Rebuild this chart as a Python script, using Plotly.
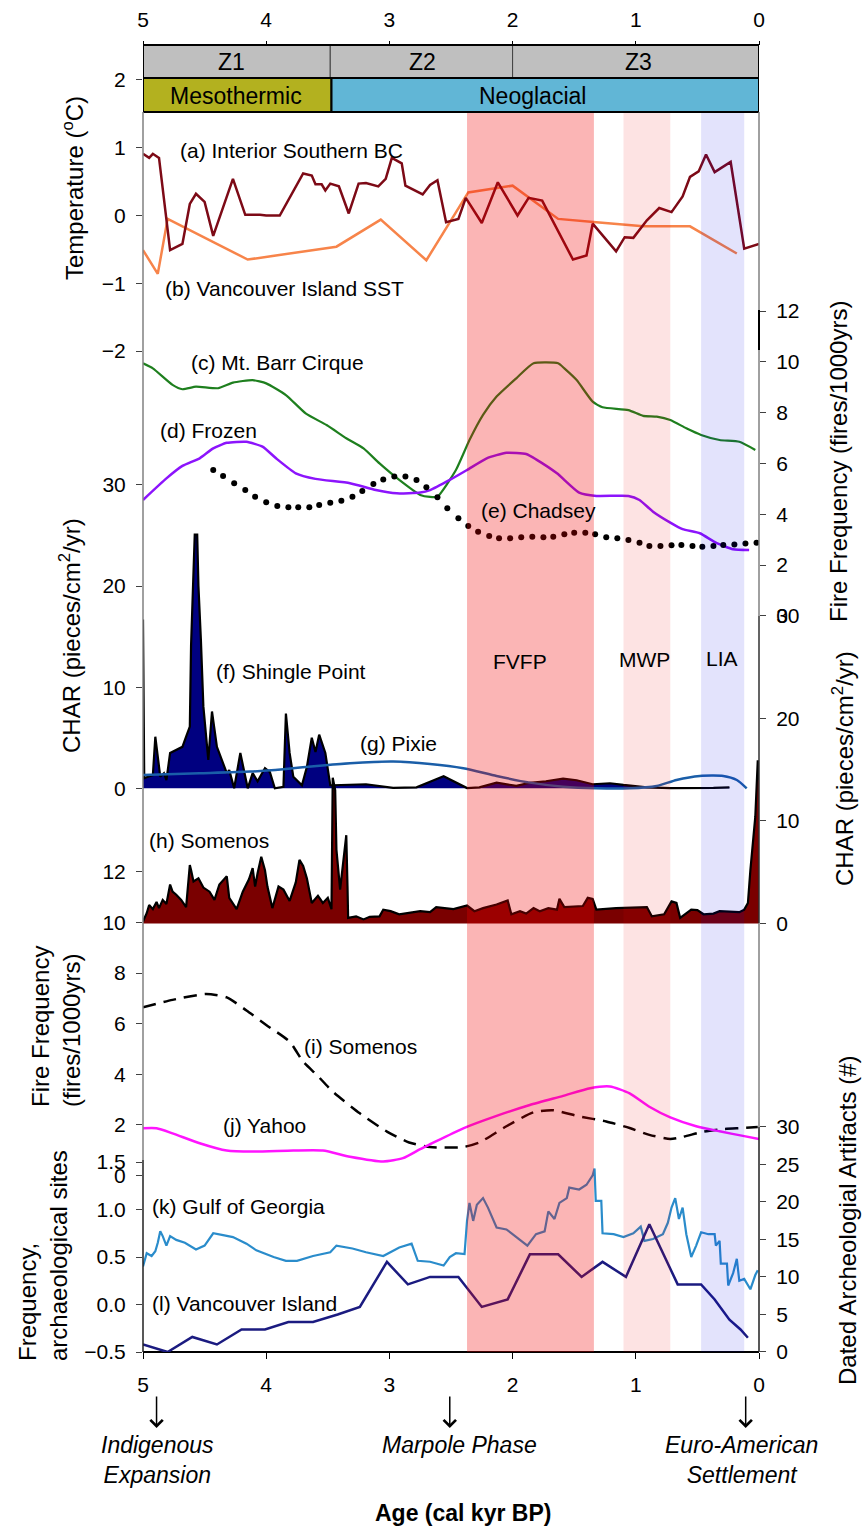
import plotly.graph_objects as go

# ------------------------------------------------------------------ data
# (a) Interior Southern BC temperature anomaly (deg C)
bc_age = [5.00, 4.95, 4.92, 4.87, 4.78, 4.68, 4.62, 4.57, 4.50, 4.43,
          4.27, 4.17, 4.05, 4.00, 3.89, 3.70, 3.63, 3.60, 3.55, 3.52,
          3.48, 3.41, 3.33, 3.25, 3.19, 3.09, 3.03, 2.98, 2.90, 2.87,
          2.73, 2.67, 2.61, 2.54, 2.44, 2.38, 2.25, 2.12, 1.96, 1.87,
          1.76, 1.51, 1.40, 1.35, 1.16, 1.09, 1.02, 0.91, 0.81, 0.71,
          0.62, 0.56, 0.49, 0.43, 0.36, 0.23, 0.12, 0.07, 0.00]
bc_temp = [0.91, 0.85, 0.91, 0.85, -0.51, -0.42, 0.17, 0.32, 0.20, -0.30,
           0.54, 0.01, 0.01, 0.00, 0.00, 0.62, 0.59, 0.46, 0.46, 0.37,
           0.47, 0.43, 0.03, 0.47, 0.48, 0.43, 0.54, 0.85, 0.77, 0.44,
           0.31, 0.45, 0.52, -0.10, -0.05, 0.26, -0.11, 0.49, 0.00, 0.26,
           0.22, -0.65, -0.59, -0.12, -0.53, -0.32, -0.33, -0.07, 0.11, 0.05,
           0.28, 0.57, 0.65, 0.90, 0.64, 0.79, -0.49, -0.46, -0.42]

# (b) Vancouver Island SST anomaly (deg C)
sst_age = [5.00, 4.88, 4.80, 4.15, 3.43, 3.07, 2.70, 2.36, 2.00, 1.63, 1.32, 0.94, 0.56, 0.18]
sst_temp = [-0.51, -0.86, -0.05, -0.65, -0.46, -0.06, -0.66, 0.34, 0.44, -0.05, -0.10, -0.16, -0.16, -0.56]

# (c) Mt. Barr Cirque fire frequency (fires/1000 yrs)
barr_age = [5.00, 4.92, 4.76, 4.68, 4.57, 4.39, 4.27, 4.11, 4.00, 3.84,
            3.68, 3.51, 3.35, 3.21, 3.08, 2.92, 2.75, 2.67, 2.61, 2.46,
            2.35, 2.24, 2.13, 1.97, 1.83, 1.63, 1.58, 1.48, 1.35, 1.27,
            1.06, 0.94, 0.83, 0.72, 0.59, 0.47, 0.32, 0.16, 0.03]
barr_ff = [9.94, 9.74, 9.09, 8.92, 9.02, 8.96, 9.18, 9.28, 9.15, 8.69,
           7.97, 7.51, 6.99, 6.59, 6.00, 5.35, 4.76, 4.68, 4.69, 5.74,
           6.92, 7.91, 8.63, 9.35, 9.94, 9.94, 9.74, 9.28, 8.43, 8.21,
           8.10, 7.87, 7.84, 7.71, 7.38, 7.12, 6.92, 6.85, 6.53]

# (d) Frozen Lake fire frequency
frozen_age = [5.00, 4.81, 4.68, 4.54, 4.43, 4.32, 4.16, 4.03, 3.92, 3.76,
              3.60, 3.32, 3.11, 2.94, 2.75, 2.67, 2.51, 2.37, 2.21, 2.05,
              1.89, 1.81, 1.64, 1.46, 1.32, 1.06, 0.97, 0.86, 0.72, 0.62,
              0.48, 0.35, 0.21, 0.08]
frozen_ff = [4.56, 5.41, 5.90, 6.20, 6.59, 6.81, 6.85, 6.66, 6.20, 5.61,
             5.39, 5.22, 4.95, 4.82, 4.85, 4.95, 5.35, 5.74, 6.20, 6.42,
             6.37, 6.16, 5.61, 4.85, 4.72, 4.72, 4.56, 4.10, 3.67, 3.41,
             3.25, 2.88, 2.62, 2.59]

# (e) Chadsey Lake fire frequency
chadsey_age = [4.43, 4.35, 4.26, 4.17, 4.09, 4.00, 3.91, 3.82, 3.74, 3.65,
               3.57, 3.48, 3.39, 3.30, 3.22, 3.13, 3.05, 2.96, 2.87, 2.78,
               2.70, 2.61, 2.53, 2.44, 2.36, 2.28, 2.19, 2.11, 2.02, 1.93,
               1.84, 1.75, 1.67, 1.58, 1.50, 1.41, 1.33, 1.24, 1.15, 1.06,
               0.97, 0.89, 0.80, 0.71, 0.63, 0.54, 0.46, 0.37, 0.29, 0.20,
               0.11, 0.02]
chadsey_ff = [5.74, 5.50, 5.22, 4.95, 4.69, 4.47, 4.32, 4.27, 4.27, 4.27,
              4.36, 4.45, 4.53, 4.69, 4.91, 5.19, 5.37, 5.48, 5.48, 5.35,
              5.06, 4.67, 4.23, 3.84, 3.54, 3.31, 3.14, 3.05, 3.05, 3.09,
              3.11, 3.09, 3.11, 3.21, 3.27, 3.27, 3.21, 3.09, 3.05, 2.98,
              2.88, 2.75, 2.75, 2.78, 2.79, 2.75, 2.72, 2.75, 2.79, 2.81,
              2.85, 2.88]

# (f) Shingle Point charcoal accumulation (pieces/cm2/yr)
shingle_age = [5.00, 4.99, 4.96, 4.92, 4.90, 4.88, 4.86, 4.83, 4.81, 4.78,
               4.73, 4.68, 4.65, 4.62, 4.61, 4.59, 4.58, 4.56, 4.55, 4.53,
               4.51, 4.47, 4.44, 4.40, 4.32, 4.30, 4.26, 4.21, 4.15, 4.11,
               4.07, 4.01, 3.97, 3.93, 3.86, 3.84, 3.81, 3.78, 3.71, 3.67,
               3.63, 3.60, 3.57, 3.52, 3.48, 3.46, 3.19, 2.97, 2.78, 2.67,
               2.56, 2.37, 2.27, 2.13, 1.97, 1.86, 1.73, 1.59, 1.48, 1.35,
               1.21, 1.10, 0.91, 0.72, 0.51, 0.37, 0.24]
shingle_char = [16.7, 1.0, 1.15, 1.3, 5.1, 2.8, 1.15, 1.5, 0.8, 3.5,
                3.8, 4.1, 5.1, 6.1, 14.1, 20.7, 25.1, 25.1, 20.0, 14.7,
                8.1, 2.8, 7.6, 4.1, 1.5, 1.8, 0.0, 3.5, 0.0, 1.5,
                0.7, 2.0, 1.6, 0.0, 0.15, 7.4, 3.5, 1.15, 0.3, 2.1,
                5.0, 3.6, 5.3, 3.5, 0.3, 0.3, 0.4, 0.05, 0.1, 0.65,
                1.2, 0.02, 0.1, 0.55, 0.25, 0.55, 0.7, 0.95, 0.8, 0.4,
                0.5, 0.33, 0.1, 0.02, 0.0, 0.05, 0.1]

# (g) Pixie Lake charcoal accumulation
pixie_age = [5.00, 4.54, 4.13, 3.86, 3.59, 3.32, 2.97, 2.67, 2.40, 2.13,
             1.86, 1.59, 1.32, 1.05, 0.83, 0.67, 0.48, 0.29, 0.18, 0.10]
pixie_char = [1.32, 1.49, 1.65, 1.89, 2.21, 2.48, 2.64, 2.41, 1.99, 1.22,
              0.56, 0.16, 0.0, 0.0, 0.23, 0.82, 1.22, 1.22, 0.82, 0.0]

# (h) Somenos Lake charcoal accumulation
som_char_age = [5.00, 4.97, 4.95, 4.92, 4.89, 4.87, 4.84, 4.81, 4.78, 4.76,
                4.73, 4.69, 4.65, 4.62, 4.61, 4.59, 4.55, 4.51, 4.46, 4.42,
                4.38, 4.32, 4.30, 4.24, 4.19, 4.14, 4.11, 4.09, 4.07, 4.04,
                4.01, 3.99, 3.95, 3.90, 3.86, 3.81, 3.76, 3.73, 3.70, 3.67,
                3.63, 3.58, 3.54, 3.50, 3.47, 3.46, 3.44, 3.43, 3.40, 3.38,
                3.35, 3.34, 3.335, 3.27, 3.21, 3.16, 3.08, 3.05, 2.99, 2.92,
                2.75, 2.67, 2.62, 2.48, 2.37, 2.31, 2.24, 2.13, 2.04, 2.01,
                1.94, 1.89, 1.83, 1.78, 1.71, 1.64, 1.62, 1.58, 1.43, 1.39,
                1.35, 1.32, 1.16, 0.91, 0.87, 0.77, 0.71, 0.67, 0.64, 0.55,
                0.50, 0.45, 0.37, 0.32, 0.16, 0.12, 0.09, 0.07, 0.05, 0.03,
                0.01, 0.00]
som_char = [0.2, 1.0, 1.8, 1.4, 2.1, 1.5, 2.3, 1.9, 3.8, 3.1,
            2.8, 2.3, 1.6, 5.7, 5.2, 4.1, 4.4, 3.5, 3.1, 2.3,
            3.8, 4.6, 2.5, 1.4, 3.1, 4.3, 5.4, 3.6, 4.9, 6.5,
            5.2, 3.6, 1.5, 3.6, 3.3, 2.2, 4.0, 6.2, 5.6, 4.4,
            2.0, 2.7, 2.0, 2.5, 1.4, 14.2, 13.0, 7.2, 3.3, 5.2,
            8.6, 3.6, 0.55, 0.7, 0.4, 0.65, 0.7, 1.35, 1.2, 0.9,
            1.2, 1.1, 1.6, 1.4, 1.75, 1.2, 1.5, 1.85, 2.25, 0.9,
            1.2, 0.97, 1.5, 1.2, 1.5, 1.35, 2.4, 1.6, 1.7, 2.5,
            2.4, 1.35, 1.5, 1.6, 0.7, 0.9, 2.15, 2.0, 0.55, 1.35,
            1.3, 0.9, 0.97, 1.2, 1.1, 1.35, 2.0, 5.2, 7.5, 10.4,
            15.9, 14.0]

# (i) Somenos Lake fire frequency
som_ff_age = [5.00, 4.76, 4.49, 4.32, 4.16, 4.00, 3.81, 3.70, 3.59, 3.46,
              3.24, 3.02, 2.84, 2.67, 2.40, 2.27, 2.05, 1.83, 1.67, 1.46,
              1.24, 1.05, 0.89, 0.72, 0.62, 0.45, 0.29, 0.13, 0.01]
som_ff = [6.65, 6.94, 7.17, 7.04, 6.52, 5.95, 5.29, 4.50, 3.98, 3.32,
          2.46, 1.74, 1.31, 1.13, 1.13, 1.31, 1.95, 2.50, 2.58, 2.34,
          2.14, 1.88, 1.61, 1.45, 1.53, 1.74, 1.84, 1.88, 1.92]

# (j) Yahoo Lake fire frequency
yahoo_age = [5.00, 4.89, 4.76, 4.54, 4.32, 4.11, 3.78, 3.54, 3.32, 3.05,
             2.89, 2.75, 2.67, 2.40, 2.13, 1.86, 1.59, 1.37, 1.21, 1.05,
             0.89, 0.72, 0.51, 0.32, 0.13, 0.00]
yahoo_ff = [1.87, 1.87, 1.67, 1.28, 0.99, 0.95, 0.99, 0.99, 0.75, 0.56,
            0.69, 1.05, 1.24, 1.87, 2.36, 2.79, 3.15, 3.45, 3.52, 3.25,
            2.72, 2.30, 1.95, 1.75, 1.57, 1.45]

# (k) Gulf of Georgia archaeological site frequency
gulf_age = [5.00, 4.97, 4.93, 4.90, 4.88, 4.86, 4.84, 4.81, 4.78, 4.73,
            4.66, 4.57, 4.50, 4.43, 4.35, 4.27, 4.16, 4.08, 3.94, 3.84,
            3.75, 3.62, 3.48, 3.43, 3.30, 3.19, 3.05, 2.92, 2.82, 2.77,
            2.67, 2.56, 2.51, 2.46, 2.39, 2.37, 2.35, 2.32, 2.29, 2.24,
            2.20, 2.13, 2.05, 1.97, 1.88, 1.81, 1.74, 1.71, 1.66, 1.62,
            1.56, 1.54, 1.46, 1.40, 1.35, 1.335, 1.325, 1.28, 1.27, 1.18,
            1.10, 1.02, 0.96, 0.93, 0.86, 0.78, 0.74, 0.71, 0.68, 0.65,
            0.62, 0.59, 0.55, 0.51, 0.47, 0.41, 0.36, 0.35, 0.32, 0.31,
            0.26, 0.25, 0.21, 0.18, 0.16, 0.12, 0.07, 0.03, 0.01]
gulf_freq = [0.40, 0.54, 0.51, 0.56, 0.65, 0.77, 0.72, 0.62, 0.72, 0.68,
             0.65, 0.58, 0.62, 0.75, 0.73, 0.71, 0.64, 0.57, 0.50, 0.46,
             0.46, 0.51, 0.55, 0.62, 0.59, 0.55, 0.51, 0.60, 0.64, 0.46,
             0.45, 0.41, 0.50, 0.54, 0.53, 0.88, 1.07, 0.88, 1.05, 1.12,
             1.02, 0.81, 0.79, 0.71, 0.62, 0.74, 0.77, 0.98, 0.90, 1.07,
             1.12, 1.23, 1.21, 1.26, 1.36, 1.43, 1.09, 1.09, 0.75, 0.74,
             0.71, 0.75, 0.82, 0.67, 0.69, 0.74, 0.86, 1.02, 1.12, 0.90,
             1.02, 0.74, 0.50, 0.62, 0.76, 0.74, 0.74, 0.62, 0.67, 0.43,
             0.43, 0.20, 0.33, 0.48, 0.25, 0.27, 0.16, 0.31, 0.36]

# (l) Vancouver Island dated archaeological artifacts (#)
vi_age = [5.00, 4.80, 4.60, 4.40, 4.20, 4.01, 3.82, 3.62, 3.42, 3.24,
          3.02, 2.85, 2.67, 2.44, 2.25, 2.04, 1.86, 1.63, 1.44, 1.27,
          1.08, 0.89, 0.66, 0.47, 0.36, 0.24, 0.15, 0.09]
vi_count = [1, 0, 2, 1, 3, 3, 4, 4, 5, 6,
            12, 9, 10, 10, 6, 7, 13, 13, 10, 12,
            10, 17, 9, 9, 7, 4.3, 3, 1.9]

# climate / cultural periods (cal kyr BP)
zones = [("Z1", 5.0, 3.48), ("Z2", 3.48, 2.0), ("Z3", 2.0, 0.0)]
phases = [("Mesothermic", 5.0, 3.47, "#B3B11F"), ("Neoglacial", 3.47, 0.0, "#61B6D6")]
periods = [("FVFP", 2.37, 1.34, "rgba(240,0,0,0.29)"),
           ("MWP", 1.10, 0.72, "rgba(240,0,0,0.11)"),
           ("LIA", 0.47, 0.12, "rgba(0,0,230,0.11)")]

# ------------------------------------------------------------------ geometry
W, H = 862, 1531
L, R, T, B = 143, 103, 45, 179
PW, PH = W - L - R, H - T - B
BOT = H - B
FONT = "Liberation Sans, Arial, sans-serif"


def py(p):
    """pixel row -> paper y"""
    return (BOT - p) / PH


def px(p):
    """pixel column -> paper x"""
    return (p - L) / PW


def yaxis_geom(v1, p1, v2, p2, lo, hi):
    """domain and range so that value v1 sits at row p1 and v2 at row p2"""
    k = (p1 - p2) / (v2 - v1)
    plo = p1 - (lo - v1) * k
    phi = p1 - (hi - v1) * k
    if plo > BOT:
        plo = BOT
        lo = v1 + (p1 - plo) / k
    return dict(domain=[py(plo), py(phi)], range=[lo, hi])


tickfont = dict(family=FONT, size=21, color="black")


def yax(side, tickvals, geom, **kw):
    d = dict(anchor="x", side=side, showgrid=False, zeroline=False, showline=False,
             ticks="outside", ticklen=6, tickcolor="#404040", tickwidth=1.2,
             tickmode="array", tickvals=tickvals, tickfont=tickfont,
             ticklabelstandoff=6)
    d.update(geom)
    d.update(kw)
    return d


fig = go.Figure()


def add_line(x, y, ya, color, width=2.5, **kw):
    fig.add_trace(go.Scatter(x=x, y=y, yaxis=ya, mode="lines",
                             line=dict(color=color, width=width, **kw.pop("line", {})),
                             showlegend=False, hoverinfo="skip", **kw))


# temperature panel
add_line(sst_age, sst_temp, "y", "#F7844A", 2.5)
add_line(bc_age, bc_temp, "y", "#7D0A16", 2.5)
# fire frequency (right)
add_line(barr_age, barr_ff, "y2", "#1E7F1E", 2.2, line=dict(shape="spline", smoothing=0.5))
add_line(frozen_age, frozen_ff, "y2", "#8C14FC", 2.5, line=dict(shape="spline", smoothing=0.5))
fig.add_trace(go.Scatter(x=chadsey_age, y=chadsey_ff, yaxis="y2", mode="markers",
                         marker=dict(color="black", size=6), showlegend=False, hoverinfo="skip"))
# charcoal (left)
add_line(shingle_age, shingle_char, "y3", "black", 2.2, fill="tozeroy", fillcolor="#000080")
add_line(pixie_age, pixie_char, "y3", "#1A5EA8", 2.5, line=dict(shape="spline", smoothing=0.6))
# charcoal (right)
add_line(som_char_age, som_char, "y4", "black", 2.2, fill="tozeroy", fillcolor="#7A0000")
# fire frequency (left)
add_line(som_ff_age, som_ff, "y5", "black", 2.5, line=dict(dash="13px,8px", shape="spline", smoothing=0.6))
add_line(yahoo_age, yahoo_ff, "y5", "#FF14FF", 2.5, line=dict(shape="spline", smoothing=0.6))
# archaeology
add_line(gulf_age, gulf_freq, "y6", "#2A8CCB", 2.2)
add_line(vi_age, vi_count, "y7", "#1B1B80", 2.5)
# top age axis carrier
fig.add_trace(go.Scatter(x=[5, 0], y=[None, None], xaxis="x2", yaxis="y", mode="lines",
                         showlegend=False, hoverinfo="skip"))

shapes = []
# period bands drawn over the records
for name, a0, a1, col in periods:
    shapes.append(dict(type="rect", xref="x", yref="paper", x0=a0, x1=a1, y0=0, y1=py(112),
                       fillcolor=col, line=dict(width=0), layer="above"))
# zone and phase boxes
for name, a0, a1 in zones:
    shapes.append(dict(type="rect", xref="x", yref="paper", x0=a0, x1=a1, y0=py(78), y1=py(45),
                       fillcolor="#BFBFBF", line=dict(color="#404040", width=1)))
shapes.append(dict(type="rect", xref="x", yref="paper", x0=5, x1=0, y0=py(78), y1=py(45),
                   line=dict(color="black", width=2)))
for name, a0, a1, col in phases:
    shapes.append(dict(type="rect", xref="x", yref="paper", x0=a0, x1=a1, y0=py(112), y1=py(78),
                       fillcolor=col, line=dict(color="black", width=2)))
# frame lines
for x0, segs in [(0, [(112, 1160, "#808080"), (1160, 1352, "#202020")]),
                 (1, [(112, 616, "#808080"), (616, 923, "#303030"), (923, 1127, "#808080"),
                      (1127, 1352, "#202020")])]:
    for p0, p1, col in segs:
        shapes.append(dict(type="line", xref="paper", yref="paper", x0=x0, x1=x0,
                           y0=py(p1), y1=py(p0), line=dict(color=col, width=1.5)))
shapes.append(dict(type="line", xref="paper", yref="paper", x0=1, x1=1,
                   y0=py(350), y1=py(310), line=dict(color="black", width=2)))

ann = []


def note(text, x, y, size=21, xanchor="left", **kw):
    ann.append(dict(text=text, x=x, y=py(y), xref="paper", yref="paper", xanchor=xanchor,
                    yanchor="middle", showarrow=False,
                    font=dict(family=FONT, size=size, color=kw.pop("color", "black")), **kw))


# record labels
note("(a) Interior Southern BC", px(178), 150.7)
note("(b) Vancouver Island SST", px(163), 288.3)
note("(c) Mt. Barr Cirque", px(189), 362.3)
note("(d) Frozen", px(157.5), 430.7)
note("(e) Chadsey", px(479), 510.7)
note("(f) Shingle Point", px(213.5), 671.7)
note("(g) Pixie", px(357.5), 743.3)
note("(h) Somenos", px(146.5), 840)
note("(i) Somenos", px(302), 1046.7)
note("(j) Yahoo", px(221), 1125)
note("(k) Gulf of Georgia", px(150), 1206.7)
note("(l) Vancouver Island", px(150), 1303.3)
note("FVFP", px(520), 661.7, xanchor="center")
note("MWP", px(644), 660, xanchor="center")
note("LIA", px(721.7), 658.3, xanchor="center")
# zone / phase names
for name, x, y in [("Z1", 231, 62), ("Z2", 422, 62), ("Z3", 638, 62),
                   ("Mesothermic", 236, 95.5), ("Neoglacial", 532, 95.5)]:
    note(name, px(x), y, size=23, xanchor="center")
# axis titles
note("Temperature (<sup>o</sup>C)", px(73), 188, size=24, xanchor="center", textangle=-90)
note("CHAR (pieces/cm<sup>2</sup>/yr)", px(70), 636, size=24, xanchor="center", textangle=-90)
note("Fire Frequency<br>(fires/1000yrs)", px(56), 1027, size=24, xanchor="center",
     textangle=-90, align="left")
note("Frequency,<br>archaeological sites", px(43), 1256, size=24, xanchor="center",
     textangle=-90, align="left")
note("Fire Frequency (fires/1000yrs)", px(838), 462, size=24, xanchor="center", textangle=-90)
note("CHAR (pieces/cm<sup>2</sup>/yr)", px(843), 769, size=24, xanchor="center", textangle=-90)
note("Dated Archeologial Artifacts (#)", px(847), 1220, size=24, xanchor="center", textangle=-90)
# cultural events below the age axis
for text, x in [("<i>Indigenous<br>Expansion</i>", 157), ("<i>Marpole Phase</i>", 459),
                ("<i>Euro-American<br>Settlement</i>", 741)]:
    ann.append(dict(text=text, x=px(x), y=py(1430), xref="paper", yref="paper",
                    xanchor="center", yanchor="top", showarrow=False,
                    font=dict(family=FONT, size=23, color="black")))
for age in [4.89, 2.51, 0.108]:
    ann.append(dict(text="", x=age, y=py(1428), xref="x", yref="paper", showarrow=True,
                    ax=0, ay=-33, arrowhead=4, arrowsize=1.6, arrowwidth=1.5,
                    arrowcolor="black"))
note("<b>Age (cal kyr BP)</b>", px(463), 1513, size=23, xanchor="center")

fig.update_layout(
    width=W, height=H,
    margin=dict(l=L, r=R, t=T, b=B, autoexpand=False),
    paper_bgcolor="white", plot_bgcolor="rgba(0,0,0,0)",
    showlegend=False,
    font=dict(family=FONT, color="black"),
    xaxis=dict(range=[5, 0], anchor="free", position=0, side="bottom",
               showgrid=False, zeroline=False, showline=True, linecolor="black", linewidth=1.5,
               ticks="outside", ticklen=6, tickcolor="black", tickmode="array",
               tickvals=[5, 4, 3, 2, 1, 0], tickfont=tickfont, ticklabelstandoff=8),
    xaxis2=dict(range=[5, 0], overlaying="x", anchor="free", position=1, side="top",
                showgrid=False, zeroline=False, showline=False,
                ticks="outside", ticklen=4, tickcolor="black", tickmode="array",
                tickvals=[5, 4, 3, 2, 1, 0], tickfont=tickfont, ticklabelstandoff=6),
    yaxis=yax("left", [-2, -1, 0, 1, 2], yaxis_geom(1, 147.7, -1, 283.3, -2.05, 2.05)),
    yaxis2=yax("right", [0, 2, 4, 6, 8, 10, 12], yaxis_geom(12, 311, 2, 565, -0.1, 12.1)),
    yaxis3=yax("left", [0, 10, 20, 30], yaxis_geom(30, 485, 0, 788.3, -0.4, 30.4)),
    yaxis4=yax("right", [0, 10, 20, 30], yaxis_geom(30, 615.5, 0, 923.5, -0.4, 30.4)),
    yaxis5=yax("left", [0, 2, 4, 6, 8, 10, 12], yaxis_geom(12, 871.7, 2, 1125, -0.1, 12.1)),
    yaxis6=yax("left", [-0.5, 0, 0.5, 1.0, 1.5], yaxis_geom(0.0, 1304.5, -0.5, 1352, -0.505, 1.52),
               tickformat=".1f"),
    yaxis7=yax("right", [0, 5, 10, 15, 20, 25, 30], yaxis_geom(30, 1126.7, 0, 1352, -0.1, 30.3)),
    shapes=shapes,
    annotations=ann,
)

fig.write_html("out.html")
